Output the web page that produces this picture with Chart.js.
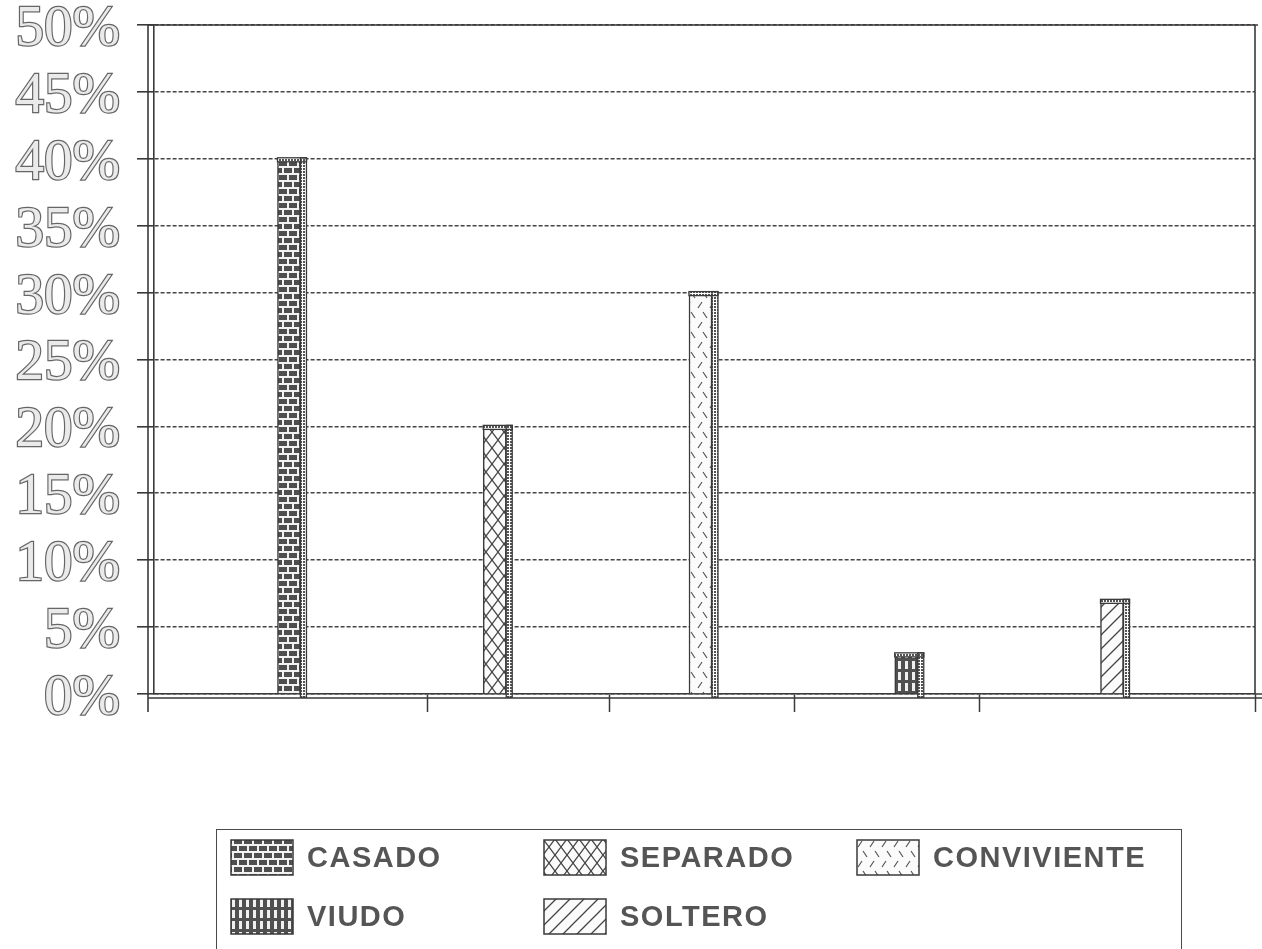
<!DOCTYPE html>
<html lang="es">
<head>
<meta charset="utf-8">
<title>Estado civil</title>
<script src="https://cdn.jsdelivr.net/npm/chart.js@4/dist/chart.umd.min.js"></script>
<style>
  html, body { margin: 0; padding: 0; background: #fff; overflow: hidden; }
  #wrap { position: relative; width: 1262px; height: 949px; }
  #chart { position: absolute; left: 0; top: 0; }
  #legend {
    position: absolute; left: 216px; top: 829px; width: 966px; height: 150px;
    border: 1.5px solid #4a4a4a; box-sizing: border-box;
    display: grid; grid-template-columns: 313px 313px 313px; grid-auto-rows: 59px;
    padding: 8px 0 0 13px;
  }
  .item { display: flex; align-items: center; height: 38px; }
  .item canvas { flex: none; }
  .item span {
    margin-left: 13px; font-family: "Liberation Sans", Arial, sans-serif;
    font-weight: bold; font-size: 29px; letter-spacing: 1.5px; color: #555;
  }
</style>
</head>
<body>
<div id="wrap">
  <canvas id="chart" width="1262" height="949"></canvas>
  <div id="legend"></div>
</div>
<script>
// Estado civil: porcentaje por categoría
const categories = ['CASADO', 'SEPARADO', 'CONVIVIENTE', 'VIUDO', 'SOLTERO'];
const values = [40, 20, 30, 3, 7];
const yTickStep = 5;
const yMax = 50;
// tick marks along the horizontal axis (axis units)
const xTickValues = [1.671, 2.560, 3.459, 4.358, 5.695];

const INK = '#3a3a3a';

function tile(w, h, draw) {
  const c = document.createElement('canvas');
  c.width = w; c.height = h;
  const g = c.getContext('2d');
  draw(g, w, h);
  return c;
}

// hatch tiles for each category
const tiles = {
  CASADO: tile(10, 14, (g, w, h) => {           // brick
    g.fillStyle = '#4e4e4e'; g.fillRect(0, 0, w, h);
    g.fillStyle = '#f2f2f2';
    g.fillRect(0, 5, w, 2); g.fillRect(0, 12, w, 2);
    g.fillRect(2, 0, 2, 7); g.fillRect(7, 7, 2, 7);
  }),
  SEPARADO: tile(12, 16, (g, w, h) => {         // diamond crosshatch
    g.fillStyle = '#fbfbfb'; g.fillRect(0, 0, w, h);
    g.strokeStyle = '#444'; g.lineWidth = 1.3;
    g.beginPath();
    g.moveTo(0, 0); g.lineTo(w, h);
    g.moveTo(w, 0); g.lineTo(0, h);
    g.stroke();
  }),
  CONVIVIENTE: tile(12, 20, (g, w, h) => {      // scattered dashes
    g.fillStyle = '#fbfbfb'; g.fillRect(0, 0, w, h);
    g.strokeStyle = '#555'; g.lineWidth = 1.2;
    g.beginPath();
    g.moveTo(2, 8); g.lineTo(6, 2);
    g.moveTo(7, 12); g.lineTo(11, 18);
    g.stroke();
  }),
  VIUDO: tile(7, 11, (g, w, h) => {             // vertical slots
    g.fillStyle = '#505050'; g.fillRect(0, 0, w, h);
    g.fillStyle = '#f0f0f0'; g.fillRect(2, 1, 3, 8);
  }),
  SOLTERO: tile(14, 14, (g, w, h) => {          // diagonal lines
    g.fillStyle = '#fbfbfb'; g.fillRect(0, 0, w, h);
    g.strokeStyle = '#444'; g.lineWidth = 1.3;
    g.beginPath();
    g.moveTo(-1, h + 1); g.lineTo(w + 1, -1);
    g.moveTo(-1, 1); g.lineTo(1, -1);
    g.moveTo(w - 1, h + 1); g.lineTo(w + 1, h - 1);
    g.stroke();
  })
};
const dotTile = tile(3, 3, (g) => {
  g.fillStyle = '#fff'; g.fillRect(0, 0, 3, 3);
  g.fillStyle = '#555'; g.fillRect(0, 0, 2, 2);
});

const ctx = document.getElementById('chart').getContext('2d');
const patterns = categories.map(c => ctx.createPattern(tiles[c], 'repeat'));
const dotPattern = ctx.createPattern(dotTile, 'repeat');

// plot frame: top and right edges plus the doubled axis lines
const framePlugin = {
  id: 'frame',
  beforeDatasetsDraw(chart) {
    const { ctx, chartArea: a } = chart;
    ctx.save();
    ctx.strokeStyle = INK; ctx.lineWidth = 1.6;
    ctx.beginPath();
    ctx.moveTo(a.left - 6, a.top); ctx.lineTo(a.right + 3, a.top);
    ctx.moveTo(a.right, a.top); ctx.lineTo(a.right, a.bottom);
    ctx.moveTo(a.left - 6, a.top); ctx.lineTo(a.left - 6, a.bottom + 18);
    ctx.moveTo(a.left - 6, a.bottom + 4); ctx.lineTo(a.right + 7, a.bottom + 4);
    ctx.moveTo(a.right, a.bottom); ctx.lineTo(a.right + 7, a.bottom);
    ctx.stroke();
    ctx.restore();
  }
};

// depth strip and cap on each bar
const depthPlugin = {
  id: 'depth',
  afterDatasetsDraw(chart) {
    const { ctx } = chart;
    ctx.save();
    chart.data.datasets.forEach((ds, i) => {
      chart.getDatasetMeta(i).data.forEach(el => {
        const { x, y, base, width } = el.getProps(['x', 'y', 'base', 'width'], true);
        const r = x + width / 2;
        const d = 6;
        ctx.fillStyle = dotPattern;
        ctx.fillRect(r, y, d, base + 4 - y);
        ctx.fillRect(x - width / 2, y - 1, width + d, 4);
        ctx.strokeStyle = INK; ctx.lineWidth = 1.3;
        ctx.strokeRect(r, y - 1, d, base + 5 - y);
        ctx.strokeRect(x - width / 2, y - 1, width + d, 4);
      });
    });
    ctx.restore();
  }
};

const chart = new Chart(ctx, {
  type: 'bar',
  data: {
    datasets: categories.map((name, i) => ({
      label: name,
      data: [{ x: i + 1, y: values[i] }],
      backgroundColor: patterns[i],
      borderColor: INK,
      borderWidth: 1.5,
      barThickness: 23,
      grouped: false
    }))
  },
  options: {
    responsive: false,
    animation: false,
    devicePixelRatio: 1,
    layout: { padding: { top: 25, right: 7, left: 0, bottom: 0 } },
    plugins: { legend: { display: false }, tooltip: { enabled: false } },
    scales: {
      x: {
        type: 'linear',
        offset: false,
        min: 0.344,
        max: 5.695,
        afterBuildTicks: s => { s.ticks = xTickValues.map(v => ({ value: v })); },
        afterFit: s => { s.height = 255; s.paddingLeft = 0; s.paddingRight = 0; },
        ticks: { callback: () => '', font: { size: 1 } },
        grid: {
          offset: false,
          drawOnChartArea: false, drawTicks: true, tickLength: 18,
          tickColor: INK, tickWidth: 1.5
        },
        border: { color: INK, width: 1.6 }
      },
      y: {
        min: 0,
        max: yMax,
        afterFit: s => { s.width = 154; s.paddingTop = 0; s.paddingBottom = 0; },
        ticks: {
          stepSize: yTickStep,
          autoSkip: false,
          padding: 17,
          labelOffset: 5,
          callback: v => v + '%',
          font: { family: '"Liberation Serif", "Times New Roman", serif', size: 57 },
          color: '#eaeaea',
          textStrokeColor: '#666',
          textStrokeWidth: 2.4
        },
        grid: {
          color: '#454545', lineWidth: 1.6,
          drawTicks: true, tickLength: 17,
          tickColor: INK, tickWidth: 1.6, tickBorderDash: []
        },
        border: { color: INK, width: 1.6, dash: [4, 2] }
      }
    }
  },
  plugins: [framePlugin, depthPlugin]
});

// legend: three columns, swatches filled with each bar's hatch
const legend = document.getElementById('legend');
chart.data.datasets.forEach((ds, i) => {
  const item = document.createElement('div');
  item.className = 'item';
  const sw = document.createElement('canvas');
  sw.width = 64; sw.height = 37;
  const g = sw.getContext('2d');
  g.fillStyle = g.createPattern(tiles[ds.label], 'repeat');
  g.fillRect(1, 1, 62, 35);
  g.strokeStyle = INK; g.lineWidth = 1.5;
  g.strokeRect(1, 1, 62, 35);
  const txt = document.createElement('span');
  txt.textContent = ds.label;
  item.appendChild(sw);
  item.appendChild(txt);
  legend.appendChild(item);
});
</script>
</body>
</html>
